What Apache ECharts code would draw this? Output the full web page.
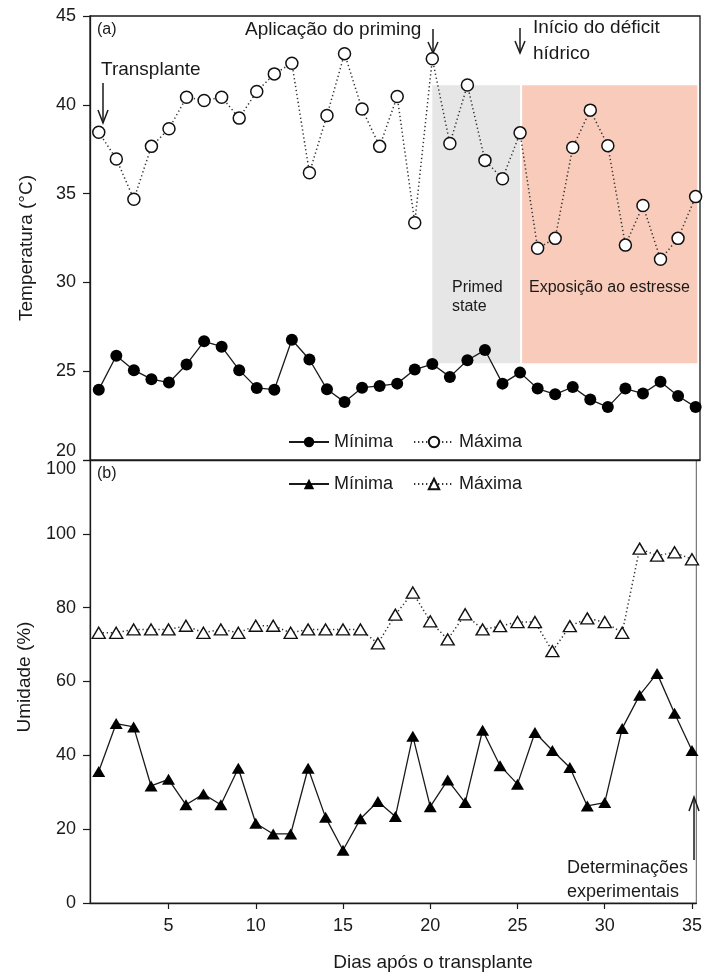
<!DOCTYPE html>
<html>
<head>
<meta charset="utf-8">
<script src="https://cdn.jsdelivr.net/npm/echarts@6/dist/echarts.min.js"></script>
<style>
  html, body { margin: 0; padding: 0; background: #fff; }
  #main { width: 705px; height: 974px; }
</style>
</head>
<body>
<div id="main"></div>
<script>
var days = [1,2,3,4,5,6,7,8,9,10,11,12,13,14,15,16,17,18,19,20,21,22,23,24,25,26,27,28,29,30,31,32,33,34,35];

// (a) temperatura (°C)
var tMin = [23.96, 25.87, 25.06, 24.55, 24.36, 25.38, 26.68, 26.38, 25.06, 24.06, 23.96, 26.77, 25.66, 23.98, 23.26,
            24.07, 24.17, 24.3, 25.09, 25.4, 24.68, 25.62, 26.19, 24.3, 24.92, 24.02, 23.7, 24.11, 23.4, 22.98,
            24.02, 23.74, 24.4, 23.6, 22.98];
var tMax = [38.45, 36.95, 34.68, 37.66, 38.65, 40.43, 40.24, 40.43, 39.25, 40.75, 41.74, 42.34, 36.17, 39.4, 42.88,
            39.76, 37.66, 40.47, 33.36, 42.59, 37.82, 41.11, 36.87, 35.84, 38.42, 31.92, 32.48, 37.6, 39.7, 37.7,
            32.1, 34.33, 31.3, 32.48, 34.83];

// (b) umidade (%)
var hMin = [35.6, 48.6, 47.7, 31.7, 33.5, 26.6, 29.5, 26.6, 36.5, 21.6, 18.7, 18.7, 36.5, 23.2, 14.3,
            22.8, 27.5, 23.4, 45.2, 26.1, 33.3, 27.2, 46.8, 37.2, 32.2, 46.2, 41.3, 36.7, 26.3, 27.2,
            47.3, 56.3, 62.2, 51.4, 41.3];
var hMax = [73.2, 73.2, 74.1, 74.1, 74.1, 75.1, 73.2, 74.1, 73.2, 75.1, 75.1, 73.2, 74.1, 74.1, 74.1,
            74.1, 70.3, 78.1, 84.1, 76.3, 71.4, 78.2, 74.1, 75.0, 76.1, 76.1, 68.2, 75.0, 77.1, 76.1,
            73.2, 96.0, 94.1, 95.0, 93.1];

// fases: [dia inicial, dia final, temp. inferior, temp. superior]
var primedPhase = [20, 25, 25.45, 41.1];
var stressPhase = [25.12, 35.1, 25.45, 41.1];

var dayTicks = [5, 10, 15, 20, 25, 30, 35];
var humTickVals = [0, 20, 40, 60, 80, 100, 120];
var humTickText = ['0', '20', '40', '60', '80', '100', '100'];

function pairs(xs, ys) {
  return xs.map(function (x, i) { return [x, ys[i]]; });
}

var FONT = '"Liberation Sans", Arial, sans-serif';
var INK = '#1a1a1a';

var myChart = echarts.init(document.getElementById('main'));

var axisLine = { lineStyle: { color: INK, width: 1.3 } };

option = {
  animation: false,
  textStyle: { fontFamily: FONT },
  grid: [
    { left: 90, top: 16, width: 610, height: 444, show: true, borderColor: INK, borderWidth: 1.3 },
    { left: 90, top: 460, width: 612, height: 443, show: true, borderColor: '#777', borderWidth: 1.2 }
  ],
  legend: [
    {
      data: ['Mínima', 'Máxima'],
      left: 283, top: 428, itemWidth: 40, itemHeight: 13, itemGap: 20,
      formatter: function (n) { return n.trim(); },
      textStyle: { fontSize: 18, color: INK, fontFamily: FONT }
    },
    {
      data: ['Mínima ', 'Máxima '],
      left: 283, top: 470, itemWidth: 40, itemHeight: 13, itemGap: 20,
      formatter: function (n) { return n.trim(); },
      textStyle: { fontSize: 18, color: INK, fontFamily: FONT }
    }
  ],
  xAxis: [
    {
      gridIndex: 0, type: 'value', min: 0.5, max: 35.25,
      axisLine: axisLine, axisTick: { show: false }, axisLabel: { show: false }, splitLine: { show: false }
    },
    {
      gridIndex: 1, type: 'value', min: 0.5, max: 35.25,
      axisLine: axisLine,
      axisTick: { customValues: dayTicks, length: 6, lineStyle: { color: INK, width: 1.2 } },
      axisLabel: { customValues: dayTicks, fontSize: 18, color: INK, margin: 14, fontFamily: FONT },
      splitLine: { show: false }
    }
  ],
  yAxis: [
    {
      gridIndex: 0, type: 'value', min: 20, max: 45, interval: 5,
      axisLine: axisLine,
      axisTick: { length: 7, lineStyle: { color: INK, width: 1.2 } },
      axisLabel: { fontSize: 18, color: INK, margin: 14, fontFamily: FONT, verticalAlignMinLabel: 'bottom' },
      splitLine: { show: false }
    },
    {
      gridIndex: 1, type: 'value', min: 0, max: 120, interval: 20,
      axisLine: axisLine,
      axisTick: { length: 7, lineStyle: { color: INK, width: 1.2 } },
      axisLabel: {
        fontSize: 18, color: INK, margin: 14, fontFamily: FONT, verticalAlignMaxLabel: 'top',
        formatter: function (v) { return humTickText[humTickVals.indexOf(v)]; }
      },
      splitLine: { show: false }
    }
  ],
  series: [
    {
      name: 'Mínima', type: 'line', xAxisIndex: 0, yAxisIndex: 0, z: 3,
      data: pairs(days, tMin),
      symbol: 'circle', symbolSize: 12,
      itemStyle: { color: '#000' },
      lineStyle: { color: INK, width: 1.3 }
    },
    {
      name: 'Máxima', type: 'line', xAxisIndex: 0, yAxisIndex: 0, z: 3,
      data: pairs(days, tMax),
      symbol: 'circle', symbolSize: 12,
      itemStyle: { color: '#fff', borderColor: '#111', borderWidth: 1.5 },
      lineStyle: { color: '#333', width: 1.5, type: [1.3, 2.7] }
    },
    {
      name: 'phases', type: 'line', xAxisIndex: 0, yAxisIndex: 0, z: 6,
      data: [[primedPhase[0], primedPhase[2]]], symbol: 'none', silent: true,
      lineStyle: { opacity: 0 },
      markArea: {
        silent: true,
        data: [
          [{ coord: [primedPhase[0], primedPhase[2]], itemStyle: { color: 'rgba(200,200,200,0.45)' } },
           { coord: [primedPhase[1], primedPhase[3]] }],
          [{ coord: [stressPhase[0], stressPhase[2]], itemStyle: { color: 'rgba(240,130,90,0.42)' } },
           { coord: [stressPhase[1], stressPhase[3]] }]
        ]
      }
    },
    {
      name: 'Mínima ', type: 'line', xAxisIndex: 1, yAxisIndex: 1, z: 3,
      data: pairs(days, hMin),
      symbol: 'triangle', symbolSize: [13, 11],
      itemStyle: { color: '#000' },
      lineStyle: { color: INK, width: 1.3 }
    },
    {
      name: 'Máxima ', type: 'line', xAxisIndex: 1, yAxisIndex: 1, z: 3,
      data: pairs(days, hMax),
      symbol: 'triangle', symbolSize: [13, 11],
      itemStyle: { color: '#fff', borderColor: '#111', borderWidth: 1.4 },
      lineStyle: { color: '#333', width: 1.5, type: [1.3, 2.7] }
    }
  ],
  graphic: [
    { type: 'text', x: 97, y: 30, style: { text: '(a)', font: '16px ' + FONT, fill: INK, verticalAlign: 'middle' } },
    { type: 'text', x: 97, y: 474, style: { text: '(b)', font: '16px ' + FONT, fill: INK, verticalAlign: 'middle' } },
    { type: 'text', x: 101, y: 70, style: { text: 'Transplante', font: '19px ' + FONT, fill: INK, verticalAlign: 'middle' } },
    { type: 'text', x: 245, y: 30, style: { text: 'Aplicação do priming', font: '19px ' + FONT, fill: INK, verticalAlign: 'middle' } },
    { type: 'text', x: 533, y: 28, style: { text: 'Início do déficit', font: '19px ' + FONT, fill: INK, verticalAlign: 'middle' } },
    { type: 'text', x: 533, y: 54, style: { text: 'hídrico', font: '19px ' + FONT, fill: INK, verticalAlign: 'middle' } },
    { type: 'text', x: 452, y: 288, z: 10, style: { text: 'Primed', font: '16px ' + FONT, fill: INK, verticalAlign: 'middle' } },
    { type: 'text', x: 452, y: 307, z: 10, style: { text: 'state', font: '16px ' + FONT, fill: INK, verticalAlign: 'middle' } },
    { type: 'text', x: 529, y: 288, z: 10, style: { text: 'Exposição ao estresse', font: '16px ' + FONT, fill: INK, verticalAlign: 'middle' } },
    { type: 'text', x: 567, y: 868, style: { text: 'Determinações', font: '18px ' + FONT, fill: INK, verticalAlign: 'middle' } },
    { type: 'text', x: 567, y: 892, style: { text: 'experimentais', font: '18px ' + FONT, fill: INK, verticalAlign: 'middle' } },
    { type: 'text', x: 433, y: 963, style: { text: 'Dias após o transplante', font: '19px ' + FONT, fill: INK, align: 'center', verticalAlign: 'middle' } },
    { type: 'text', x: 27, y: 248, rotation: Math.PI / 2, style: { text: 'Temperatura (°C)', font: '19px ' + FONT, fill: INK, align: 'center', verticalAlign: 'middle' } },
    { type: 'text', x: 25, y: 677, rotation: Math.PI / 2, style: { text: 'Umidade (%)', font: '19px ' + FONT, fill: INK, align: 'center', verticalAlign: 'middle' } },
    // setas
    { type: 'line', shape: { x1: 103, y1: 83, x2: 103, y2: 123 }, style: { stroke: INK, lineWidth: 1.5 } },
    { type: 'polyline', shape: { points: [[98, 110], [103, 123], [108, 110]] }, style: { stroke: INK, lineWidth: 1.5, fill: null } },
    { type: 'line', shape: { x1: 433, y1: 29, x2: 433, y2: 53 }, style: { stroke: INK, lineWidth: 1.5 } },
    { type: 'polyline', shape: { points: [[428, 42], [433, 53], [438, 42]] }, style: { stroke: INK, lineWidth: 1.5, fill: null } },
    { type: 'line', shape: { x1: 520, y1: 28, x2: 520, y2: 53 }, style: { stroke: INK, lineWidth: 1.5 } },
    { type: 'polyline', shape: { points: [[515, 41], [520, 53], [525, 41]] }, style: { stroke: INK, lineWidth: 1.5, fill: null } },
    { type: 'line', shape: { x1: 694, y1: 860, x2: 694, y2: 797 }, style: { stroke: INK, lineWidth: 1.5 } },
    { type: 'polyline', shape: { points: [[689, 811], [694, 797], [699, 811]] }, style: { stroke: INK, lineWidth: 1.5, fill: null } }
  ]
};

myChart.setOption(option);
</script>
</body>
</html>
